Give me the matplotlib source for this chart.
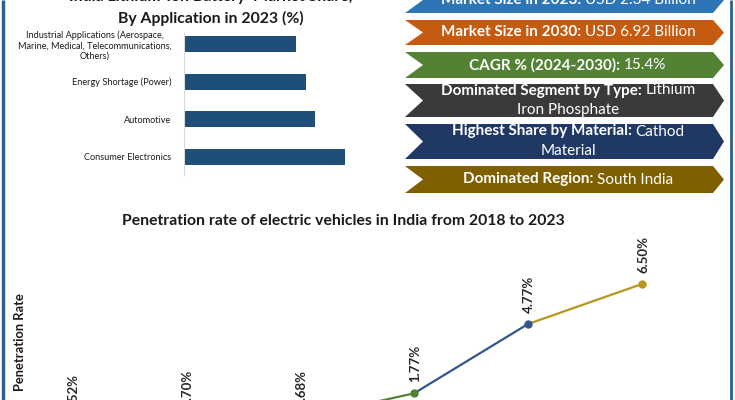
import matplotlib
matplotlib.use("Agg")
import matplotlib.pyplot as plt
from matplotlib.patches import Polygon

plt.rcParams['font.family'] = ['Lato', 'DejaVu Sans']

# bar chart data (share %, bottom to top)
app_categories = ["Consumer Electronics", "Automotive", "Energy Shortage (Power)",
                  "Industrial Applications (Aerospace,\nMarine, Medical, Telecommunications,\nOthers)"]
app_share = [30.6, 24.9, 23.2, 21.3]

# EV penetration data
ev_years = [2018, 2019, 2020, 2021, 2022, 2023]
ev_rate = [0.52, 0.70, 0.68, 1.77, 4.77, 6.50]
ev_labels = ["0.52%", "0.70%", "0.68%", "1.77%", "4.77%", "6.50%"]
ev_colors = ['#4472c4', '#ed7d31', '#a5a5a5', '#548235', '#34568b', '#b8961e']

# info ribbons
ribbon_labels = ["Market Size in 2023:", "Market Size in 2030:", "CAGR % (2024-2030):",
                 "Dominated Segment by Type:", "Highest Share by Material:", "Dominated Region:"]
ribbon_values = ["USD 2.34 Billion", "USD 6.92 Billion", "15.4%",
                 "Lithium\nIron Phosphate", "Cathod\nMaterial", "South India"]
ribbon_colors = ['#2e75b6', '#c55a11', '#548235', '#3a3a3a', '#203864', '#7f6000']
ribbon_rows = [(-13, 13), (20, 45), (52, 78), (84, 117), (124, 159), (166, 193)]

W, H = 735, 400
fig = plt.figure(figsize=(W / 100, H / 100), dpi=100)


def px_axes(x0, y0, x1, y1):
    # axes placed by pixel box (y from top)
    return fig.add_axes([x0 / W, 1 - y1 / H, (x1 - x0) / W, (y1 - y0) / H])


# overlay in pixel coordinates for ribbons, borders, free text
ov = fig.add_axes([0, 0, 1, 1])
ov.set_xlim(0, W)
ov.set_ylim(H, 0)
ov.axis('off')
ov.patch.set_alpha(0)

ov.plot([3, 3], [0, H], color='#2f5f8a', lw=2.5, solid_capstyle='butt')
ov.plot([731, 731], [0, H], color='#2f5f8a', lw=2, solid_capstyle='butt')

renderer = fig.canvas.get_renderer()


def text_w(s, **kw):
    t = ov.text(0, 0, s, **kw)
    w = t.get_window_extent(renderer).width
    t.remove()
    return w


def mixed_line(xc, y, parts, size):
    widths = [text_w(s, fontsize=size, fontweight=wt) for s, wt in parts]
    gap = text_w("a b", fontsize=size) - text_w("ab", fontsize=size)
    total = sum(widths) + gap * (len(parts) - 1)
    x = xc - total / 2
    for (s, wt), w in zip(parts, widths):
        ov.text(x, y, s, fontsize=size, fontweight=wt, color='white', ha='left', va='center')
        x += w + gap


rsize = 11
x0, x1 = 405, 713
for lab, val, col, (top, bot) in zip(ribbon_labels, ribbon_values, ribbon_colors, ribbon_rows):
    mid = (top + bot) / 2
    poly = Polygon([(x0, top), (x1, top), (x1 + 11, mid), (x1, bot), (x0, bot), (x0 + 18, mid)],
                   closed=True, facecolor=col, edgecolor='none')
    ov.add_patch(poly)
    xc = (x0 + 18 + x1) / 2
    lines = val.split("\n")
    if len(lines) == 1:
        mixed_line(xc, mid, [(lab, 'bold'), (lines[0], 'normal')], rsize)
    else:
        mixed_line(xc, mid - 10, [(lab, 'bold'), (lines[0], 'normal')], rsize)
        ov.text(xc, mid + 9.5, lines[1], fontsize=rsize, color='white', ha='center', va='center')

# bar chart
ax1 = px_axes(184, 33, 364, 175)
ax1.barh(range(len(app_share)), app_share, height=0.42, color='#1f4e79')
ax1.set_xlim(0, 180 * 100 / 525)
ax1.set_ylim(-0.478, 3.29)
ax1.set_yticks(range(len(app_categories)))
ax1.set_yticklabels(app_categories, fontsize=6.6, color='#1a1a1a')
for lbl in ax1.get_yticklabels():
    lbl.set_multialignment('center')
ax1.tick_params(axis='y', length=0, pad=9)
ax1.set_xticks([])
for s in ['top', 'right', 'bottom']:
    ax1.spines[s].set_visible(False)
ax1.spines['left'].set_color('#d9d9d9')
ax1.patch.set_alpha(0)

ov.text(211, -3, "India Lithium-Ion Battery  Market Share,", fontsize=11.3, fontweight='bold',
        color='#1a1a1a', ha='center', va='center')
ov.text(211, 18, "By Application in 2023 (%)", fontsize=11.3, fontweight='bold',
        color='#1a1a1a', ha='center', va='center')

# line chart (pixel mapping: 114 px per year, ~23.1 px per percent)
ax2 = px_axes(40, 240, 700, 400)
ax2.set_xlim(2018 + (40 - 72) / 114, 2018 + (700 - 72) / 114)
ax2.set_ylim(4.77 - 76 / 23.12, 4.77 + 84 / 23.12)
ax2.axis('off')
for i in range(len(ev_years) - 1):
    ax2.plot(ev_years[i:i + 2], ev_rate[i:i + 2], color=ev_colors[i + 1], lw=1.6, clip_on=False)
for yr, v, c, lab in zip(ev_years, ev_rate, ev_colors, ev_labels):
    ax2.plot(yr, v, 'o', color=c, ms=5, clip_on=False)
    ax2.annotate(lab, (yr, v), xytext=(1, 8), textcoords='offset points', rotation=90,
                 ha='center', va='bottom', fontsize=9.5, fontweight='bold', color='#262626',
                 annotation_clip=False)

ov.text(343, 221, "Penetration rate of electric vehicles in India from 2018 to 2023", fontsize=11.3,
        fontweight='bold', color='#1a1a1a', ha='center', va='center')
ov.text(20, 342, "Penetration Rate", fontsize=9.3, fontweight='bold', color='#1a1a1a',
        rotation=90, ha='center', va='center')

fig.savefig("out.png", dpi=100)
